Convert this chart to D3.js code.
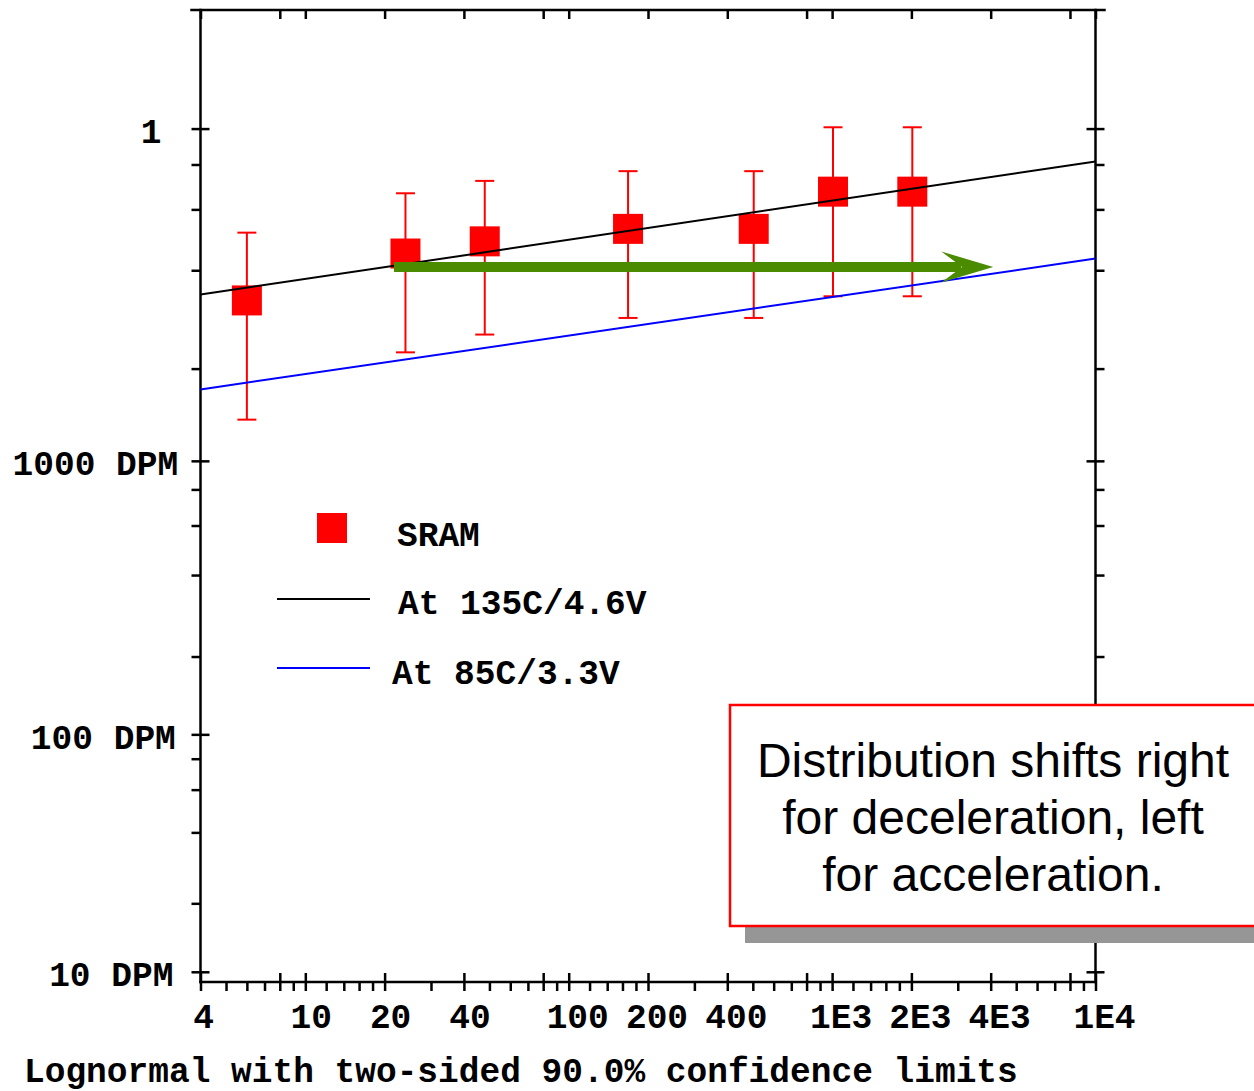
<!DOCTYPE html>
<html>
<head>
<meta charset="utf-8">
<script src="https://cdn.jsdelivr.net/npm/d3@7"></script>
<style>
body { margin: 0; background: #fff; }
svg { display: block; }
.mono { font-family: "Liberation Mono", "Courier New", monospace; font-weight: bold; font-size: 34.5px; fill: #000; }
.note { font-family: "Liberation Sans", Arial, sans-serif; font-size: 48px; fill: #000; }
</style>
</head>
<body>
<div id="main"></div>
<script>
// SRAM failures, times in hours, cumulative fraction failed in percent
const times = [6, 24, 48, 168, 504, 1008, 2016];
const sramPct = [0.325, 0.448, 0.486, 0.528, 0.528, 0.673, 0.673];
const upperPct = [0.515, 0.666, 0.721, 0.767, 0.767, 1.008, 1.008];
const lowerPct = [0.137, 0.225, 0.2556, 0.2875, 0.2875, 0.3345, 0.3345];

// fitted lognormal lines (straight on this paper), read at both ends
const fitTimes = [4, 10000];
const hotPct = [0.3385, 0.815];   // 135C/4.6V
const usePct = [0.1717, 0.433];   // 85C/3.3V

// green "shift" arrow
const arrowTimes = [21.7, 4090];
const arrowPct = 0.409;

// axis ticks
const xMajorTicks = [4, 8, 10, 20, 40, 80, 100, 200, 400, 800, 1000, 2000, 4000, 8000, 10000];
const xMinorTicks = [5, 6, 7, 9, 12, 14, 16, 18, 30, 50, 60, 70, 90, 120, 140, 160, 180,
                     300, 500, 600, 700, 900, 1200, 1400, 1600, 1800, 3000, 5000, 6000, 7000, 9000];
const xLabelValues = [4, 10, 20, 40, 100, 200, 400, 1000, 2000, 4000, 10000];
const xLabelTexts = ["4", "10", "20", "40", "100", "200", "400", "1E3", "2E3", "4E3", "1E4"];
const yMajorPct = [1, 0.1, 0.01, 0.001];
const yLabelTexts = ["1", "1000 DPM", "100 DPM", "10 DPM"];
const yMinorPct = [0.8, 0.6, 0.4, 0.2, 0.08, 0.06, 0.04, 0.02, 0.008, 0.006, 0.004, 0.002];

const legendLabels = ["SRAM", "At 135C/4.6V", "At 85C/3.3V"];
const noteLines = ["Distribution shifts right", "for deceleration, left", "for acceleration."];
const caption = "Lognormal with two-sided 90.0% confidence limits";

const ctx = {
    w: 1254,
    h: 1091,
    LEFT: 200.5,
    RIGHT: 1095.5,
    TOP: 10,
    BOTTOM: 982,
    TICK: 9,
    MARK: 30,
    CAP: 19,
    AXIS_W: 2.5,
    LINE_W: 2,
    RED: "#ff0000",
    GREEN: "#4b8b00"
};

// inverse normal cdf (Acklam) - used for the probability axis
function probit(p) {
    const a = [-3.969683028665376e+01, 2.209460984245205e+02, -2.759285104469687e+02,
               1.383577518672690e+02, -3.066479806614716e+01, 2.506628277459239e+00];
    const b = [-5.447609879822406e+01, 1.615858368580409e+02, -1.556989798598866e+02,
               6.680131188771972e+01, -1.328068155288572e+01];
    const c = [-7.784894002430293e-03, -3.223964580411365e-01, -2.400758277161838e+00,
               -2.549732539343734e+00, 4.374664141464968e+00, 2.938163982698783e+00];
    const d = [7.784695709041462e-03, 3.224671290700398e-01, 2.445134137142996e+00,
               3.754408661907416e+00];
    const pLow = 0.02425;
    let q, r;
    if (p < pLow) {
        q = Math.sqrt(-2 * Math.log(p));
        return (((((c[0]*q+c[1])*q+c[2])*q+c[3])*q+c[4])*q+c[5]) /
               ((((d[0]*q+d[1])*q+d[2])*q+d[3])*q+1);
    }
    if (p <= 1 - pLow) {
        q = p - 0.5; r = q*q;
        return (((((a[0]*r+a[1])*r+a[2])*r+a[3])*r+a[4])*r+a[5])*q /
               (((((b[0]*r+b[1])*r+b[2])*r+b[3])*r+b[4])*r+1);
    }
    q = Math.sqrt(-2 * Math.log(1 - p));
    return -(((((c[0]*q+c[1])*q+c[2])*q+c[3])*q+c[4])*q+c[5]) /
            ((((d[0]*q+d[1])*q+d[2])*q+d[3])*q+1);
}

function yOf(pct) {
    return ctx.zScale(probit(pct / 100));
}

function initScales() {
    ctx.xScale = d3.scaleLog().domain([4, 10000]).range([ctx.LEFT, ctx.RIGHT]);
    // probability paper: 2% at the top, 0.0009% at the bottom
    ctx.zScale = d3.scaleLinear()
                   .domain([probit(0.02), probit(0.000009)])
                   .range([ctx.TOP, ctx.BOTTOM]);
}

function tickAxis(g, axis, tx, ty) {
    g.append("g")
        .attr("transform", `translate(${tx},${ty})`)
        .call(axis)
        .call(a => a.select(".domain").remove())
        .selectAll("line")
        .attr("stroke", "#000")
        .attr("stroke-width", ctx.AXIS_W);
}

function drawFrame(bkgG) {
    const T = ctx.TICK;
    const zMajor = yMajorPct.map(p => probit(p / 100));
    const zMinor = yMinorPct.map(p => probit(p / 100));

    // bottom: minor outward, major crossing
    tickAxis(bkgG, d3.axisBottom(ctx.xScale).tickValues(xMinorTicks).tickSize(T).tickFormat(""), 0, ctx.BOTTOM);
    tickAxis(bkgG, d3.axisBottom(ctx.xScale).tickValues(xMajorTicks).tickSize(2*T).tickFormat(""), 0, ctx.BOTTOM - T);
    // top: major inward only
    tickAxis(bkgG, d3.axisBottom(ctx.xScale).tickValues(xMajorTicks).tickSize(T).tickFormat(""), 0, ctx.TOP);
    // left / right
    tickAxis(bkgG, d3.axisLeft(ctx.zScale).tickValues(zMinor).tickSize(T).tickFormat(""), ctx.LEFT, 0);
    tickAxis(bkgG, d3.axisLeft(ctx.zScale).tickValues(zMajor).tickSize(2*T).tickFormat(""), ctx.LEFT + T, 0);
    tickAxis(bkgG, d3.axisRight(ctx.zScale).tickValues(zMinor).tickSize(T).tickFormat(""), ctx.RIGHT, 0);
    tickAxis(bkgG, d3.axisRight(ctx.zScale).tickValues(zMajor).tickSize(2*T).tickFormat(""), ctx.RIGHT - T, 0);

    // frame lines
    const frame = [
        [ctx.LEFT - T, ctx.TOP, ctx.RIGHT + T, ctx.TOP],
        [ctx.LEFT, ctx.BOTTOM, ctx.RIGHT, ctx.BOTTOM],
        [ctx.LEFT, ctx.TOP, ctx.LEFT, ctx.BOTTOM],
        [ctx.RIGHT, ctx.TOP, ctx.RIGHT, ctx.BOTTOM]
    ];
    bkgG.selectAll("line.frame")
        .data(frame)
        .enter()
        .append("line")
        .classed("frame", true)
        .attr("x1", d => d[0]).attr("y1", d => d[1])
        .attr("x2", d => d[2]).attr("y2", d => d[3])
        .attr("stroke", "#000")
        .attr("stroke-width", ctx.AXIS_W)
        .attr("stroke-linecap", "square");

    // x labels (shifted right a little, as in the original)
    bkgG.selectAll("text.xlab")
        .data(xLabelValues)
        .enter()
        .append("text")
        .classed("mono", true)
        .attr("x", (d, i) => ctx.xScale(d) + 3 * xLabelTexts[i].length)
        .attr("y", 1028)
        .style("text-anchor", "middle")
        .text((d, i) => xLabelTexts[i]);

    // y labels
    bkgG.selectAll("text.ylab")
        .data(yMajorPct)
        .enter()
        .append("text")
        .classed("mono", true)
        .attr("x", (d, i) => 159 + 2.4 * yLabelTexts[i].length)
        .attr("y", d => yOf(d) + 14.5)
        .style("text-anchor", "end")
        .style("white-space", "pre")
        .text((d, i) => yLabelTexts[i]);

    // caption sits right at the bottom edge
    bkgG.append("text")
        .classed("mono", true)
        .attr("x", 24)
        .attr("y", 1082)
        .style("white-space", "pre")
        .text(caption);
}

function plotSRAM(dataG) {
    const pts = times.map((t, i) => ({t: t, p: sramPct[i], lo: lowerPct[i], hi: upperPct[i]}));
    const x = ctx.xScale;

    // error bars
    dataG.selectAll("line.bar")
        .data(pts)
        .enter()
        .append("line")
        .attr("x1", d => x(d.t)).attr("x2", d => x(d.t))
        .attr("y1", d => yOf(d.hi)).attr("y2", d => yOf(d.lo))
        .attr("stroke", ctx.RED)
        .attr("stroke-width", ctx.LINE_W);
    ["hi", "lo"].forEach(k => {
        dataG.selectAll(`line.cap${k}`)
            .data(pts)
            .enter()
            .append("line")
            .attr("x1", d => x(d.t) - ctx.CAP/2).attr("x2", d => x(d.t) + ctx.CAP/2)
            .attr("y1", d => yOf(d[k])).attr("y2", d => yOf(d[k]))
            .attr("stroke", ctx.RED)
            .attr("stroke-width", ctx.LINE_W);
    });

    // markers
    dataG.selectAll("rect.mark")
        .data(pts)
        .enter()
        .append("rect")
        .attr("x", d => x(d.t) - ctx.MARK/2)
        .attr("y", d => yOf(d.p) - ctx.MARK/2)
        .attr("width", ctx.MARK)
        .attr("height", ctx.MARK)
        .attr("fill", ctx.RED);
}

function plotFits(dataG) {
    const line = d3.line()
                   .x(d => ctx.xScale(d[0]))
                   .y(d => yOf(d[1]));
    dataG.append("path")
        .datum(fitTimes.map((t, i) => [t, usePct[i]]))
        .attr("d", line)
        .attr("fill", "none")
        .attr("stroke", "#0000ff")
        .attr("stroke-width", ctx.LINE_W);
    dataG.append("path")
        .datum(fitTimes.map((t, i) => [t, hotPct[i]]))
        .attr("d", line)
        .attr("fill", "none")
        .attr("stroke", "#000")
        .attr("stroke-width", ctx.LINE_W);
}

function plotArrow(g) {
    const x0 = ctx.xScale(arrowTimes[0]);
    const tip = ctx.xScale(arrowTimes[1]);
    const y = yOf(arrowPct);
    g.append("line")
        .attr("x1", x0).attr("x2", tip - 32)
        .attr("y1", y).attr("y2", y)
        .attr("stroke", ctx.GREEN)
        .attr("stroke-width", 10);
    g.append("path")
        .attr("d", `M${tip},${y} L${tip - 52},${y - 15.5} L${tip - 31},${y} L${tip - 52},${y + 15.5} Z`)
        .attr("fill", ctx.GREEN);
}

function drawLegend(g) {
    const rowY = [528, 599, 668];
    const textX = [397, 398, 392];
    const textY = [546, 614, 684];
    g.append("rect")
        .attr("x", 332 - ctx.MARK/2).attr("y", rowY[0] - ctx.MARK/2)
        .attr("width", ctx.MARK).attr("height", ctx.MARK)
        .attr("fill", ctx.RED);
    [["#000", rowY[1]], ["#0000ff", rowY[2]]].forEach(([col, yy]) => {
        g.append("line")
            .attr("x1", 277).attr("x2", 370)
            .attr("y1", yy).attr("y2", yy)
            .attr("stroke", col)
            .attr("stroke-width", ctx.LINE_W);
    });
    g.selectAll("text.leg")
        .data(legendLabels)
        .enter()
        .append("text")
        .classed("mono", true)
        .attr("x", (d, i) => textX[i])
        .attr("y", (d, i) => textY[i])
        .style("white-space", "pre")
        .text(d => d);
}

function drawNote(g) {
    g.append("rect")
        .attr("x", 745).attr("y", 720)
        .attr("width", 600).attr("height", 223)
        .attr("fill", "#969696");
    g.append("rect")
        .attr("x", 730).attr("y", 705)
        .attr("width", 600).attr("height", 221)
        .attr("fill", "#fff")
        .attr("stroke", ctx.RED)
        .attr("stroke-width", 2.5);
    g.selectAll("text.note")
        .data(noteLines)
        .enter()
        .append("text")
        .classed("note", true)
        .attr("x", 993)
        .attr("y", (d, i) => 777 + i * 57)
        .style("text-anchor", "middle")
        .text(d => d);
}

function createViz() {
    const svgEl = d3.select("#main").append("svg")
                    .attr("width", ctx.w)
                    .attr("height", ctx.h);
    const rootG = svgEl.append("g").attr("id", "rootG");
    const bkgG = rootG.append("g").attr("id", "bkgG");
    const dataG = rootG.append("g").attr("id", "dataG");
    const annG = rootG.append("g").attr("id", "annG");

    initScales();
    drawFrame(bkgG);
    plotSRAM(dataG);
    plotFits(dataG);
    plotArrow(annG);
    drawLegend(annG);
    drawNote(annG);
}

createViz();
</script>
</body>
</html>
